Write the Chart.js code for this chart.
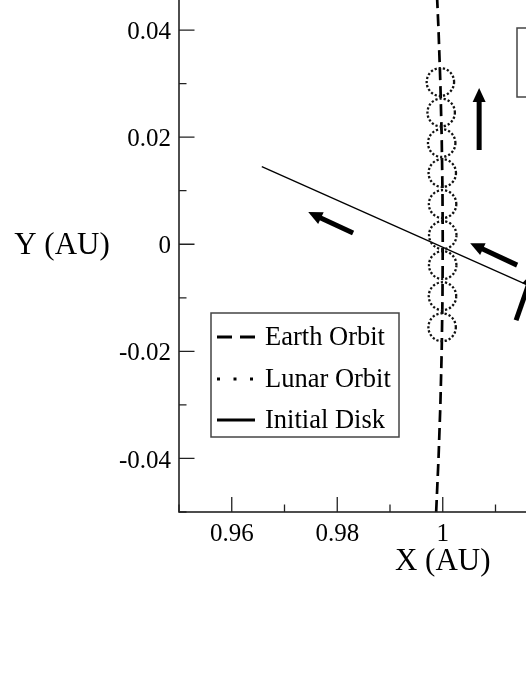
<!DOCTYPE html>
<html>
<head>
<meta charset="utf-8">
<script src="https://cdn.jsdelivr.net/npm/chart.js@4.4.1/dist/chart.umd.min.js"></script>
<style>
  html, body { margin: 0; padding: 0; background: #fff; overflow: hidden; width: 526px; height: 681px; }
  /* the figure is cropped: plot goes past the top and right edges */
  #marco { position: absolute; left: 0; top: -40px; }
</style>
</head>
<body>
<div id="marco"><canvas id="orbita" width="760" height="721"></canvas></div>
<script>
// labelled ticks
const xEtiquetas = [0.96, 0.98, 1, 1.02, 1.04];
const yEtiquetas = [-0.04, -0.02, 0, 0.02, 0.04];

// earth orbit (dashed arc)
const tierraX = [0.99875, 0.9992, 0.99955, 0.9998, 0.99995, 1, 0.99995, 0.9998, 0.99955, 0.9992, 0.99875];
const tierraY = [-0.05, -0.04, -0.03, -0.02, -0.01, 0, 0.01, 0.02, 0.03, 0.04, 0.05];

// lunar orbit circles, centres + radius (AU)
const lunaX = [0.99955, 0.9997, 0.9998, 0.99991, 0.99997, 1, 0.99999, 0.99995, 0.99988];
const lunaY = [0.0303, 0.0246, 0.0189, 0.0133, 0.0075, 0.0017, -0.0039, -0.0097, -0.0155];
const radioLuna = 0.0026;

// initial disk
const discoX = [0.9657, 1.0343];
const discoY = [0.0145, -0.0156];

// arrows, tail -> tip
const flechaColaX = [1.0069, 0.9830, 1.0141, 1.0139];
const flechaColaY = [0.0176, 0.0021, -0.0039, -0.0142];
const flechaPuntaX = [1.0069, 0.9745, 1.0052, 1.0171];
const flechaPuntaY = [0.0292, 0.0060, 0.0002, -0.0052];

const serif = '"Liberation Serif", "Times New Roman", serif';
Chart.defaults.font.family = serif;
Chart.defaults.color = '#000';

const esEtiqueta = (lista, v) => lista.some(t => Math.abs(t - v) < 1e-6);
const formato = v => String(+v.toFixed(2));

const extras = {
  id: 'extras',
  afterDatasetsDraw(chart) {
    const {ctx, chartArea: a, scales: {x, y}} = chart;
    ctx.save();
    ctx.beginPath();
    ctx.rect(a.left, a.top, a.right - a.left, a.bottom - a.top);
    ctx.clip();

    //dotted lunar orbits
    ctx.strokeStyle = '#111';
    ctx.lineWidth = 2.3;
    ctx.setLineDash([2.2, 2]);
    chart.data.datasets[1].data.forEach(p => {
      const cx = x.getPixelForValue(p.x), cy = y.getPixelForValue(p.y);
      const rx = x.getPixelForValue(p.x + radioLuna) - cx;
      const ry = cy - y.getPixelForValue(p.y + radioLuna);
      ctx.beginPath();
      ctx.ellipse(cx, cy, rx, ry, 0, 0, Math.PI * 2);
      ctx.stroke();
    });
    ctx.setLineDash([]);

    //arrows
    ctx.fillStyle = '#000';
    ctx.strokeStyle = '#000';
    flechaColaX.forEach((_, i) => {
      const x0 = x.getPixelForValue(flechaColaX[i]), y0 = y.getPixelForValue(flechaColaY[i]);
      const x1 = x.getPixelForValue(flechaPuntaX[i]), y1 = y.getPixelForValue(flechaPuntaY[i]);
      const ang = Math.atan2(y1 - y0, x1 - x0);
      const largo = 14, medio = 6.5;
      const bx = x1 - largo * Math.cos(ang), by = y1 - largo * Math.sin(ang);
      ctx.lineWidth = 5;
      ctx.lineCap = 'butt';
      ctx.beginPath();
      ctx.moveTo(x0, y0);
      ctx.lineTo(bx + 2 * Math.cos(ang), by + 2 * Math.sin(ang));
      ctx.stroke();
      ctx.beginPath();
      ctx.moveTo(x1, y1);
      ctx.lineTo(bx + medio * Math.sin(ang), by - medio * Math.cos(ang));
      ctx.lineTo(bx - medio * Math.sin(ang), by + medio * Math.cos(ang));
      ctx.closePath();
      ctx.fill();
    });
    ctx.restore();
  },
  afterDraw(chart) {
    const {ctx, chartArea: a, scales: {x, y}} = chart;
    ctx.save();

    //frame
    ctx.strokeStyle = '#222';
    ctx.lineWidth = 1.6;
    ctx.strokeRect(a.left, a.top, a.right - a.left, a.bottom - a.top);

    //ticks pointing inwards
    ctx.lineWidth = 1.3;
    ctx.beginPath();
    x.ticks.forEach(t => {
      const px = x.getPixelForValue(t.value);
      const l = esEtiqueta(xEtiquetas, t.value) ? 15 : 7.5;
      ctx.moveTo(px, a.bottom); ctx.lineTo(px, a.bottom - l);
      ctx.moveTo(px, a.top); ctx.lineTo(px, a.top + l);
    });
    y.ticks.forEach(t => {
      const py = y.getPixelForValue(t.value);
      const l = esEtiqueta(yEtiquetas, t.value) ? 15.5 : 7.5;
      ctx.moveTo(a.left, py); ctx.lineTo(a.left + l, py);
      ctx.moveTo(a.right, py); ctx.lineTo(a.right - l, py);
    });
    ctx.stroke();

    //horizontal y title
    ctx.fillStyle = '#000';
    ctx.font = '31px ' + serif;
    ctx.textAlign = 'center';
    ctx.textBaseline = 'middle';
    ctx.fillText('Y (AU)', a.left - 117, y.getPixelForValue(0) + 2);

    //legend box
    const lx = a.left + 32, ly = a.top + 336.5, lw = 188, lh = 124;
    ctx.fillStyle = '#fff';
    ctx.fillRect(lx, ly, lw, lh);
    ctx.strokeStyle = '#444';
    ctx.lineWidth = 1.5;
    ctx.strokeRect(lx, ly, lw, lh);

    const filas = [
      {texto: 'Earth Orbit', dash: [15, 8]},
      {texto: 'Lunar Orbit', dash: [3, 13.5]},
      {texto: 'Initial Disk', dash: []}
    ];
    const filaY = [24, 66, 107];
    ctx.font = '26.5px ' + serif;
    ctx.textAlign = 'left';
    filas.forEach((f, i) => {
      const cy = ly + filaY[i];
      ctx.strokeStyle = '#000';
      ctx.lineWidth = 3;
      ctx.setLineDash(f.dash);
      ctx.beginPath();
      ctx.moveTo(lx + 6, cy);
      ctx.lineTo(lx + 44, cy);
      ctx.stroke();
      ctx.setLineDash([]);
      ctx.fillStyle = '#000';
      ctx.fillText(f.texto, lx + 54, cy + 1);
    });

    //second box, cut by the right edge
    ctx.strokeStyle = '#444';
    ctx.lineWidth = 1.5;
    ctx.strokeRect(a.left + 338, a.top + 51.5, 200, 69);
    ctx.restore();
  }
};

new Chart(document.getElementById('orbita'), {
  type: 'scatter',
  data: {
    datasets: [
      {
        label: 'Earth Orbit',
        type: 'line',
        data: tierraX.map((v, i) => ({x: v, y: tierraY[i]})),
        borderColor: '#000',
        borderWidth: 2.7,
        borderDash: [12, 6],
        pointRadius: 0,
        fill: false
      },
      {
        label: 'Lunar Orbit',
        data: lunaX.map((v, i) => ({x: v, y: lunaY[i]})),
        pointRadius: 0
      },
      {
        label: 'Initial Disk',
        type: 'line',
        data: discoX.map((v, i) => ({x: v, y: discoY[i]})),
        borderColor: '#000',
        borderWidth: 1.3,
        pointRadius: 0,
        fill: false
      }
    ]
  },
  options: {
    responsive: false,
    animation: false,
    events: [],
    layout: {
      padding: {top: 16.5, right: 53.5, bottom: 100.4, left: 0}
    },
    scales: {
      x: {
        type: 'linear',
        min: 0.95,
        max: 1.05,
        grid: {display: false, drawTicks: false},
        border: {display: false},
        ticks: {
          stepSize: 0.01,
          autoSkip: false,
          maxRotation: 0,
          padding: 7,
          color: '#000',
          font: {size: 25, family: serif},
          callback: v => esEtiqueta(xEtiquetas, v) ? formato(v) : ''
        },
        title: {
          display: true,
          text: 'X (AU)',
          color: '#000',
          font: {size: 31, family: serif},
          padding: {top: 0, bottom: 0}
        },
        afterFit: s => { s.height = 68.6; s.paddingLeft = 0; s.paddingRight = 0; }
      },
      y: {
        type: 'linear',
        min: -0.05,
        max: 0.05,
        grid: {display: false, drawTicks: false},
        border: {display: false},
        ticks: {
          stepSize: 0.01,
          autoSkip: false,
          padding: 8,
          labelOffset: 2.5,
          color: '#000',
          font: {size: 25, family: serif},
          callback: v => esEtiqueta(yEtiquetas, v) ? formato(v) : ''
        },
        afterFit: s => { s.width = 179; s.paddingTop = 0; s.paddingBottom = 0; }
      }
    },
    plugins: {
      legend: {display: false},
      tooltip: {enabled: false}
    }
  },
  plugins: [extras]
});
</script>
</body>
</html>
